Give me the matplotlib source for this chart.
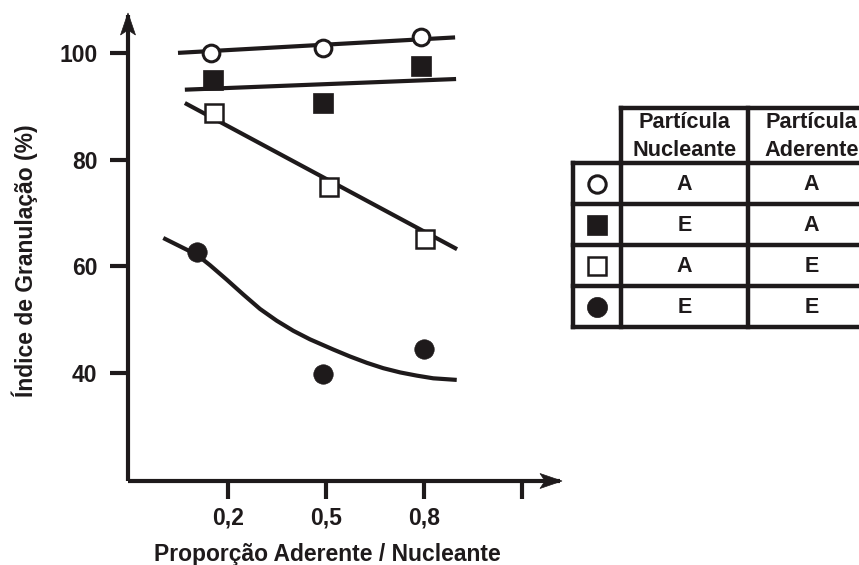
import matplotlib
matplotlib.use("Agg")
import matplotlib.pyplot as plt
from matplotlib.patches import Polygon

# ---------------- data ----------------
x_open_circle = [0.149, 0.491, 0.791]
y_open_circle = [99.9, 101.0, 103.0]
x_filled_square = [0.154, 0.491, 0.791]
y_filled_square = [95.0, 90.6, 97.6]
x_open_square = [0.158, 0.509, 0.803]
y_open_square = [88.7, 74.9, 65.1]
x_filled_circle = [0.104, 0.491, 0.801]
y_filled_circle = [62.6, 39.9, 44.4]

# trend lines (read endpoints / points)
fit_open_circle_x = [0.047, 0.895]
fit_open_circle_y = [100.0, 102.9]
fit_filled_square_x = [0.068, 0.898]
fit_filled_square_y = [93.1, 95.1]
fit_open_square_x = [0.068, 0.901]
fit_open_square_y = [90.6, 63.2]
fit_filled_circle_x = [0.002, 0.074, 0.104, 0.145, 0.196, 0.247, 0.298, 0.349, 0.400,
                       0.451, 0.522, 0.573, 0.625, 0.675, 0.727, 0.778, 0.828, 0.900]
fit_filled_circle_y = [65.3, 63.1, 62.2, 60.2, 57.5, 54.7, 52.0, 49.8, 47.9,
                       46.3, 44.4, 43.1, 41.9, 40.9, 40.1, 39.5, 39.0, 38.7]

x_ticks = [0.2, 0.5, 0.8, 1.1]
x_tick_labels = ["0,2", "0,5", "0,8", ""]
y_ticks = [40, 60, 80, 100]
y_tick_labels = ["40", "60", "80", "100"]

table_header = [["Partícula", "Nucleante"], ["Partícula", "Aderente"]]
table_nucleante = ["A", "E", "A", "E"]
table_aderente = ["A", "A", "E", "E"]

# ---------------- style ----------------
INK = "#1e1a1b"
FONT = "Liberation Sans"
plt.rcParams["font.family"] = [FONT, "DejaVu Sans"]
plt.rcParams["font.weight"] = "bold"

W, H = 859, 565
fig = plt.figure(figsize=(W / 100, H / 100), dpi=100)

# axes placed in pixel coordinates
ax_l, ax_r, ax_b, ax_t = 128, 560, 481, 15
ax = fig.add_axes([ax_l / W, (H - ax_b) / H, (ax_r - ax_l) / W, (ax_b - ax_t) / H])
ax.set_xlim(-0.106, 1.216)
ax.set_ylim(19.75, 107.1)
for s in ["top", "right"]:
    ax.spines[s].set_visible(False)
for s in ["left", "bottom"]:
    ax.spines[s].set_linewidth(3.0)
    ax.spines[s].set_color(INK)
    ax.spines[s].set_capstyle("butt")

ax.set_xticks(x_ticks)
ax.set_xticklabels(x_tick_labels)
ax.set_yticks(y_ticks)
ax.set_yticklabels(y_tick_labels)
ax.tick_params(direction="out", length=13, width=3.0, color=INK,
               labelsize=16.5, labelcolor=INK)
ax.tick_params(axis="y", pad=9)
ax.tick_params(axis="x", pad=5)
for lab in ax.get_xticklabels() + ax.get_yticklabels():
    lab.set_fontweight("bold")

ax.set_xlabel("Proporção Aderente / Nucleante", fontsize=16.5, fontweight="bold", color=INK)
ax.xaxis.set_label_coords((327 - ax_l) / (ax_r - ax_l), -(543 - ax_b) / (ax_b - ax_t))
ax.xaxis.label.set_va("top")
ax.set_ylabel("Índice de Granulação (%)", fontsize=16.5, fontweight="bold", color=INK)
ax.yaxis.set_label_coords(-(ax_l - 25) / (ax_r - ax_l), (ax_b - 261) / (ax_b - ax_t))
ax.yaxis.label.set_va("center")
ax.yaxis.label.set_ha("center")

LW = 3.0
ax.plot(fit_open_circle_x, fit_open_circle_y, color=INK, lw=LW, solid_capstyle="butt", zorder=2)
ax.plot(fit_filled_square_x, fit_filled_square_y, color=INK, lw=LW, solid_capstyle="butt", zorder=2)
ax.plot(fit_open_square_x, fit_open_square_y, color=INK, lw=LW, solid_capstyle="butt", zorder=2)
ax.plot(fit_filled_circle_x, fit_filled_circle_y, color=INK, lw=LW, solid_capstyle="butt",
        solid_joinstyle="round", zorder=2)

ax.plot(x_open_circle, y_open_circle, "o", ms=12, mfc="white", mec=INK, mew=2.2, zorder=3, clip_on=False)
ax.plot(x_filled_square, y_filled_square, "s", ms=14, mfc=INK, mec=INK, mew=0.5, zorder=3, clip_on=False)
ax.plot(x_open_square, y_open_square, "s", ms=13.5, mfc="white", mec=INK, mew=1.8, zorder=3, clip_on=False)
ax.plot(x_filled_circle, y_filled_circle, "o", ms=14, mfc=INK, mec=INK, mew=0.5, zorder=3, clip_on=False)

# ---------------- overlay in pixel coordinates ----------------
ov = fig.add_axes([0, 0, 1, 1], facecolor="none")
ov.set_xlim(0, W)
ov.set_ylim(H, 0)
ov.axis("off")

# arrow heads
ov.add_patch(Polygon([(128, 13), (120.5, 35), (128, 30), (135.5, 35)], closed=True,
                     fc=INK, ec=INK, lw=0.5))
ov.add_patch(Polygon([(562, 481), (540, 473.5), (545, 481), (540, 488.5)], closed=True,
                     fc=INK, ec=INK, lw=0.5))

# table
TLW = 3.2
col_x = [573, 621, 748, 875]
row_y = [163, 204, 245, 286, 327]
head_top = 108
kw = dict(color=INK, lw=TLW, solid_capstyle="projecting", clip_on=True)
# header box
ov.plot([col_x[1], col_x[3]], [head_top, head_top], **kw)
ov.plot([col_x[1], col_x[1]], [head_top, row_y[0]], **kw)
ov.plot([col_x[2], col_x[2]], [head_top, row_y[-1]], **kw)
ov.plot([col_x[3], col_x[3]], [head_top, row_y[-1]], **kw)
# body
for y in row_y:
    ov.plot([col_x[0], col_x[3]], [y, y], **kw)
ov.plot([col_x[0], col_x[0]], [row_y[0], row_y[-1]], **kw)
ov.plot([col_x[1], col_x[1]], [row_y[0], row_y[-1]], **kw)

for i, lines in enumerate(table_header):
    cx = (col_x[i + 1] + col_x[i + 2]) / 2
    ov.text(cx, 123, lines[0], ha="center", va="center", fontsize=15.7, fontweight="bold", color=INK)
    ov.text(cx, 150, lines[1], ha="center", va="center", fontsize=15.7, fontweight="bold", color=INK)

table_markers = [("o", "white", 2.2, 12.5), ("s", INK, 0.5, 14), ("s", "white", 1.8, 13.5), ("o", INK, 0.5, 14.5)]
for r in range(4):
    cy = (row_y[r] + row_y[r + 1]) / 2
    m, fc, mew, ms = table_markers[r]
    ov.plot([597], [cy], m, ms=ms, mfc=fc, mec=INK, mew=mew)
    ov.text((col_x[1] + col_x[2]) / 2, cy + 1, table_nucleante[r], ha="center", va="center",
            fontsize=15.5, fontweight="bold", color=INK)
    ov.text((col_x[2] + col_x[3]) / 2, cy + 1, table_aderente[r], ha="center", va="center",
            fontsize=15.5, fontweight="bold", color=INK)

fig.savefig("out.png", dpi=100)
